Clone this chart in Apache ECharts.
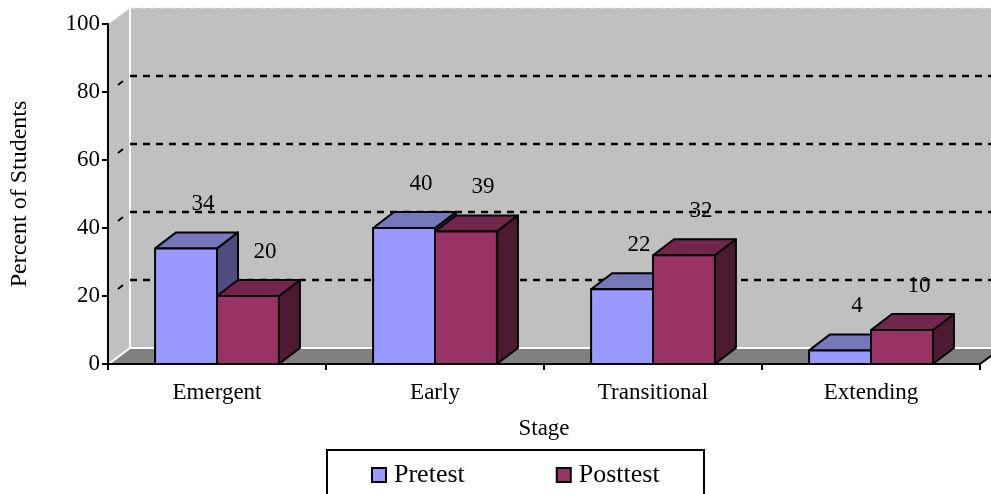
<!DOCTYPE html>
<html>
<head>
<meta charset="utf-8">
<script src="https://cdn.jsdelivr.net/npm/echarts@6/dist/echarts.min.js"></script>
<style>html,body{margin:0;padding:0;background:#fff;}#c{width:991px;height:494px;}</style>
</head>
<body>
<div id="c"></div>
<script>
// ---- data ----
const categories = ['Emergent', 'Early', 'Transitional', 'Extending'];
const pretest = [34, 40, 22, 4];
const posttest = [20, 39, 32, 10];
const yTicks = [0, 20, 40, 60, 80, 100];
const seriesNames = ['Pretest', 'Posttest'];

// ---- style ----
const FONT = "'Times New Roman', 'Liberation Serif', serif";
const WALL_DX = 22, WALL_DY = 16;
const BAR_DX = 21, BAR_DY = 16;
const BAR_FRAC = 0.284;
const colors = {
  Pretest: { front: '#9999ff', top: '#7777bb', side: '#4d4d80' },
  Posttest: { front: '#993366', top: '#73264d', side: '#4d1a33' }
};

const chart = echarts.init(document.getElementById('c'), null, { renderer: 'canvas' });

function backgroundRender(params, api) {
  const cs = params.coordSys;
  const x0 = cs.x, x1 = cs.x + cs.width;
  const yB = api.coord([0, yTicks[0]])[1];
  const yT = api.coord([0, yTicks[yTicks.length - 1]])[1];
  const ch = [];
  ch.push({ type: 'polygon', shape: { points: [[x0, yB], [x0 + WALL_DX, yB - WALL_DY], [x0 + WALL_DX, yT - WALL_DY], [x0, yT]] }, style: { fill: '#c0c0c0' } });
  ch.push({ type: 'rect', shape: { x: x0 + WALL_DX, y: yT - WALL_DY, width: x1 - x0 + 40, height: yB - yT }, style: { fill: '#c0c0c0' } });
  ch.push({ type: 'polygon', shape: { points: [[x0, yB], [x1, yB], [x1 + WALL_DX, yB - WALL_DY], [x0 + WALL_DX, yB - WALL_DY]] }, style: { fill: '#808080' } });
  const white = { stroke: '#ffffff', lineWidth: 2 };
  ch.push({ type: 'line', shape: { x1: x0 + WALL_DX, y1: yT - WALL_DY, x2: x0 + WALL_DX, y2: yB - WALL_DY }, style: white });
  ch.push({ type: 'line', shape: { x1: x0 + WALL_DX, y1: yB - WALL_DY, x2: x1 + WALL_DX + 40, y2: yB - WALL_DY }, style: white });
  ch.push({ type: 'line', shape: { x1: x0 + 2, y1: yB - 1, x2: x0 + WALL_DX, y2: yB - WALL_DY }, style: white });
  ch.push({ type: 'line', shape: { x1: x0 + 2, y1: yT - 1, x2: x0 + WALL_DX, y2: yT - WALL_DY }, style: { stroke: '#e8e8e8', lineWidth: 1 } });
  ch.push({ type: 'line', shape: { x1: x0 + WALL_DX, y1: yT - WALL_DY, x2: x1 + 40, y2: yT - WALL_DY }, style: { stroke: '#e8e8e8', lineWidth: 1, lineDash: [6, 4] } });
  ch.push({ type: 'line', shape: { x1: x1, y1: yB, x2: x1 + WALL_DX, y2: yB - WALL_DY }, style: { stroke: '#000', lineWidth: 2 } });
  for (let i = 1; i < yTicks.length - 1; i++) {
    const y = api.coord([0, yTicks[i]])[1];
    ch.push({ type: 'line', shape: { x1: x0 + WALL_DX, y1: y - WALL_DY, x2: x1 + 40, y2: y - WALL_DY }, style: { stroke: '#000', lineWidth: 2.5, lineDash: [7, 6] } });
    ch.push({ type: 'line', shape: { x1: x0 + 10, y1: y - 7, x2: x0 + 15, y2: y - 11 }, style: { stroke: '#000', lineWidth: 2 } });
  }
  return { type: 'group', children: ch };
}

function makeBarRender(name, side) {
  const c = colors[name];
  return function (params, api) {
    const cat = api.value(0), val = api.value(1);
    const base = api.coord([cat, 0]);
    const top = api.coord([cat, val]);
    const band = api.size([1, 0])[0];
    const w = band * BAR_FRAC;
    const xl = side === 0 ? base[0] - w : base[0];
    const xr = xl + w;
    const yb = base[1], yt = top[1];
    const st = { stroke: '#000', lineWidth: 2, lineJoin: 'round' };
    return {
      type: 'group',
      children: [
        { type: 'polygon', shape: { points: [[xr, yb], [xr + BAR_DX, yb - BAR_DY], [xr + BAR_DX, yt - BAR_DY], [xr, yt]] }, style: Object.assign({ fill: c.side }, st) },
        { type: 'polygon', shape: { points: [[xl, yt], [xr, yt], [xr + BAR_DX, yt - BAR_DY], [xl + BAR_DX, yt - BAR_DY]] }, style: Object.assign({ fill: c.top }, st) },
        { type: 'rect', shape: { x: xl, y: yt, width: w, height: yb - yt }, style: Object.assign({ fill: c.front }, st) },
        { type: 'text', z2: 100, style: { text: String(val), x: (xl + xr) / 2 + 17, y: yt - 44, align: 'center', verticalAlign: 'middle', font: '23px ' + FONT, fill: '#000' } }
      ]
    };
  };
}

const option = {
  backgroundColor: '#ffffff',
  animation: false,
  grid: { left: 108, right: 11, top: 24, bottom: 130, containLabel: false },
  xAxis: {
    type: 'category', data: categories, boundaryGap: true, z: 10,
    name: 'Stage', nameLocation: 'middle', nameGap: 53,
    nameTextStyle: { fontFamily: FONT, fontSize: 23, color: '#000', verticalAlign: 'top' },
    axisLine: { lineStyle: { color: '#000', width: 2 } },
    axisTick: { show: true, length: 6, lineStyle: { color: '#000', width: 2 } },
    axisLabel: { fontFamily: FONT, fontSize: 23, color: '#000', margin: 17 },
    splitLine: { show: false }
  },
  yAxis: {
    type: 'value', min: 0, max: 100, interval: 20, z: 10,
    name: 'Percent of Students', nameLocation: 'middle', nameGap: 76, nameRotate: 90,
    nameTextStyle: { fontFamily: FONT, fontSize: 24, color: '#000' },
    axisLine: { show: true, lineStyle: { color: '#000', width: 2 } },
    axisTick: { show: true, length: 6, lineStyle: { color: '#000', width: 2 } },
    axisLabel: { fontFamily: FONT, fontSize: 23, color: '#000', margin: 8 },
    splitLine: { show: false }
  },
  legend: {
    data: seriesNames, left: 366, top: 457, z: 20,
    icon: 'rect', itemWidth: 14, itemHeight: 14, itemGap: 91,
    itemStyle: { borderColor: '#000', borderWidth: 2 },
    textStyle: { fontFamily: FONT, fontSize: 26, color: '#000', padding: [0, 0, 0, 3] },
    selectedMode: false
  },
  graphic: [
    { type: 'rect', z: 5, shape: { x: 327, y: 450, width: 377, height: 60 }, style: { fill: '#fff', stroke: '#000', lineWidth: 2 } }
  ],
  series: [
    { type: 'custom', name: 'bg', z: 0, silent: true, renderItem: backgroundRender, data: [[0, 0]] },
    { type: 'custom', name: 'Pretest', z: 2, itemStyle: { color: colors.Pretest.front }, renderItem: makeBarRender('Pretest', 0), data: pretest.map((v, i) => [i, v]) },
    { type: 'custom', name: 'Posttest', z: 3, itemStyle: { color: colors.Posttest.front }, renderItem: makeBarRender('Posttest', 1), data: posttest.map((v, i) => [i, v]) }
  ]
};
chart.setOption(option);
</script>
</body>
</html>
